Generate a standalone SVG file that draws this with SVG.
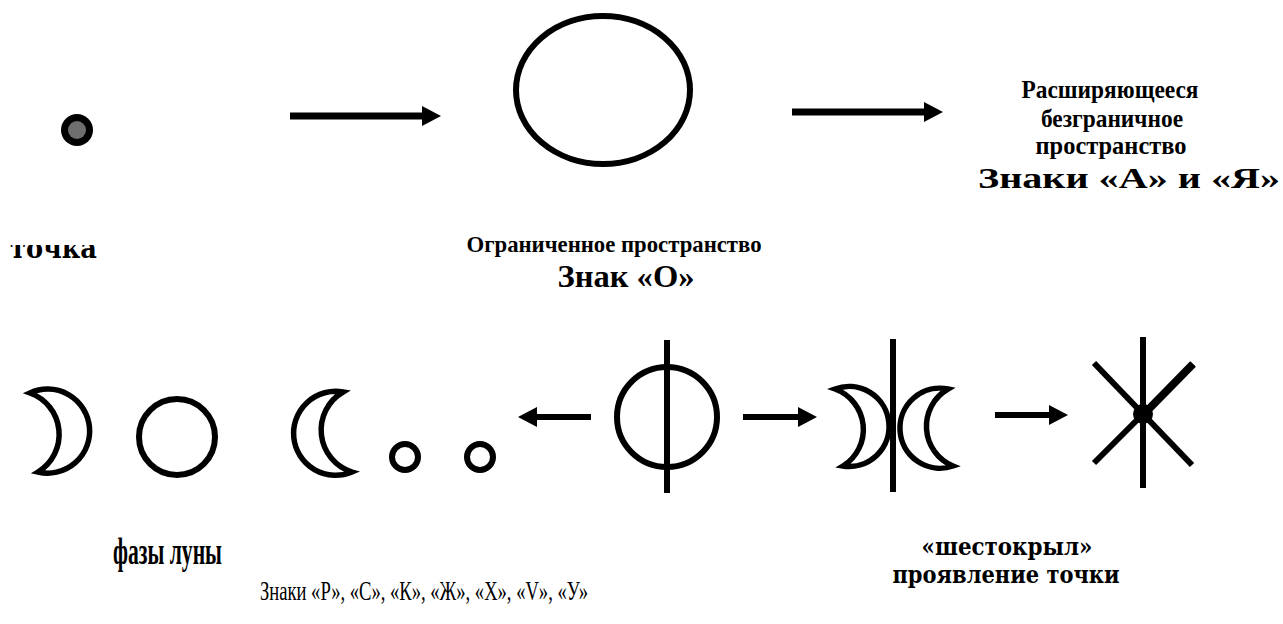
<svg xmlns="http://www.w3.org/2000/svg" width="1283" height="624" viewBox="0 0 1283 624">
<style>
.bg{fill:#fff}
.sym{fill:none;stroke:#000;stroke-width:6}
.cres{fill:none;stroke:#000;stroke-width:5.5;stroke-linejoin:miter;stroke-miterlimit:20}
.conn{stroke:#000;fill:none}
.tb{font-family:"Liberation Serif",serif;font-weight:bold;fill:#000}
.tr{font-family:"Liberation Serif",serif;fill:#000}
.td{font-family:"DejaVu Serif","Liberation Serif",serif;font-weight:bold;fill:#000}
</style>
<defs>
<marker id="ah" markerUnits="userSpaceOnUse" markerWidth="20" markerHeight="20" refX="0" refY="10" orient="auto">
<path d="M0,0 L19,10 L0,20 Z" fill="#000"/>
</marker>
<clipPath id="clipTochka" clipPathUnits="userSpaceOnUse"><rect x="0" y="245" width="140" height="30"/></clipPath>
</defs>
<rect class="bg" x="0" y="0" width="1283" height="624"/>

<g id="tochka">
<circle cx="77" cy="130" r="16" fill="#000"/>
<circle cx="77" cy="130" r="9" fill="#6e6e6e"/>
<g clip-path="url(#clipTochka)">
<text class="td" x="10" y="258" style="font-size:27px" textLength="87" lengthAdjust="spacingAndGlyphs">точка</text>
</g>
</g>

<g id="znak-o">
<ellipse class="sym" cx="603" cy="90" rx="87" ry="74"/>
<text class="tb" x="614" y="252" style="font-size:24px" text-anchor="middle" textLength="295" lengthAdjust="spacingAndGlyphs">Ограниченное пространство</text>
<text class="tb" x="626" y="287" style="font-size:32px" text-anchor="middle" textLength="137" lengthAdjust="spacingAndGlyphs">Знак «О»</text>
</g>

<g id="znaki-a-ya">
<text class="tb" x="1110" y="98" style="font-size:26px" text-anchor="middle" textLength="177" lengthAdjust="spacingAndGlyphs">Расширяющееся</text>
<text class="tb" x="1112" y="127" style="font-size:26px" text-anchor="middle" textLength="142" lengthAdjust="spacingAndGlyphs">безграничное</text>
<text class="tb" x="1111" y="154" style="font-size:26px" text-anchor="middle" textLength="151" lengthAdjust="spacingAndGlyphs">пространство</text>
<text class="tb" x="1129" y="188" style="font-size:30px" text-anchor="middle" textLength="302" lengthAdjust="spacingAndGlyphs">Знаки «А» и «Я»</text>
</g>

<g id="moon-phases">
<path class="cres" d="M30,393 A42,42 0 1 1 38,472 A44,44 0 0 0 30,393 Z"/>
<circle class="sym" cx="177" cy="437" r="38"/>
<path class="cres" d="M343,392 A42,42 0 1 0 352,472 A44,44 0 0 1 343,392 Z"/>
<circle class="sym" cx="405" cy="457" r="13" stroke-width="5"/>
<circle class="sym" cx="480" cy="457" r="13" stroke-width="5"/>
<text class="tb" x="113" y="564" style="font-size:37px" textLength="109" lengthAdjust="spacingAndGlyphs">фазы луны</text>
</g>

<g id="phi">
<circle class="sym" cx="667" cy="417" r="50"/>
<line x1="667" y1="340" x2="667" y2="493" stroke="#000" stroke-width="6"/>
</g>

<g id="zhe">
<line x1="893" y1="339" x2="893" y2="492" stroke="#000" stroke-width="6"/>
<path class="cres" d="M835,389 A40,40 0 1 1 843,466 A43,43 0 0 0 835,389 Z"/>
<path class="cres" d="M948,389 A40,40 0 1 0 953,466 A43,43 0 0 1 948,389 Z"/>
</g>

<g id="shestokryl">
<line x1="1143" y1="337" x2="1143" y2="488" stroke="#000" stroke-width="6"/>
<line x1="1094" y1="363" x2="1192" y2="465" stroke="#000" stroke-width="6"/>
<line x1="1094" y1="463" x2="1193" y2="364" stroke="#000" stroke-width="6"/>
<line x1="1143" y1="415" x2="1193" y2="364" stroke="#000" stroke-width="8"/>
<circle cx="1143" cy="414" r="10" fill="#000"/>
<text class="td" x="1007" y="555" style="font-size:25px" text-anchor="middle" textLength="171" lengthAdjust="spacingAndGlyphs">«шестокрыл»</text>
<text class="td" x="1006" y="583" style="font-size:25px" text-anchor="middle" textLength="227" lengthAdjust="spacingAndGlyphs">проявление точки</text>
</g>

<g id="caption">
<text class="tr" x="260" y="600" style="font-size:28px" textLength="328" lengthAdjust="spacingAndGlyphs">Знаки «Р», «С», «К», «Ж», «Х», «V», «У»</text>
</g>

<g id="connectors">
<line class="conn" x1="290" y1="116" x2="422" y2="116" stroke-width="7" marker-end="url(#ah)"/>
<line class="conn" x1="792" y1="112" x2="924" y2="112" stroke-width="7" marker-end="url(#ah)"/>
<line class="conn" x1="591" y1="417" x2="537" y2="417" stroke-width="6" marker-end="url(#ah)"/>
<line class="conn" x1="743" y1="417" x2="798" y2="417" stroke-width="6" marker-end="url(#ah)"/>
<line class="conn" x1="995" y1="415" x2="1049" y2="415" stroke-width="6" marker-end="url(#ah)"/>
</g>
</svg>
